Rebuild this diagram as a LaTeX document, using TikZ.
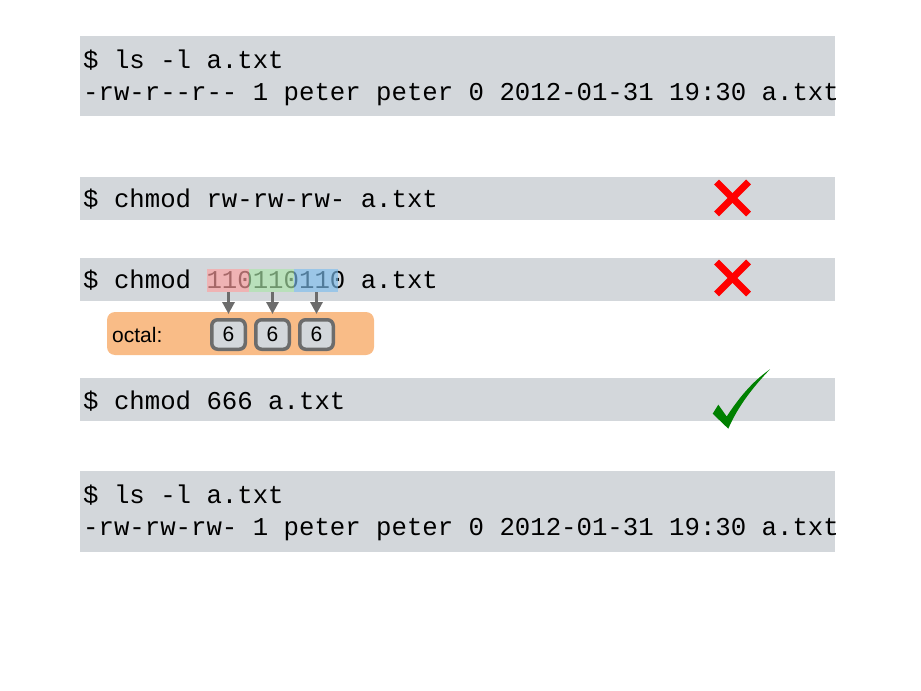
\documentclass[tikz,border=0pt]{standalone}
\usepackage{fontspec}
\setmonofont{Liberation Mono}
\setsansfont{Liberation Sans}
\usetikzlibrary{arrows.meta,calc}
\definecolor{termgray}{RGB}{211,215,219}
\definecolor{octorange}{RGB}{249,188,135}
\definecolor{hlred}{RGB}{255,160,160}
\definecolor{hlgreen}{RGB}{172,230,170}
\definecolor{hlblue}{RGB}{125,190,238}
\definecolor{arrgray}{RGB}{108,108,108}
\definecolor{okgreen}{RGB}{0,128,0}
\tikzset{
  term/.style={anchor=base west, inner sep=0pt, font=\fontsize{25.7bp}{32bp}\selectfont\ttfamily},
  hl/.style={rectangle, inner sep=0pt, minimum height=23bp, fill opacity=0.65},
  digitbox/.style={rectangle, rounded corners=6bp, draw=arrgray, line width=3.5bp, fill=termgray,
    minimum width=33.5bp, minimum height=29.5bp, inner sep=0pt,
    font=\fontsize{21bp}{24bp}\selectfont\sffamily},
  arr/.style={draw=arrgray, line width=3bp, -{Triangle[width=12bp,length=12bp]}, arrgray},
  cross/.style={draw=red, line width=7bp, line cap=butt}
}
\begin{document}
\begin{tikzpicture}[x=1bp,y=-1bp]
\useasboundingbox (0,0) rectangle (921,691);
% terminal boxes
\fill[termgray] (80,36) rectangle (835,116);
\fill[termgray] (80,177) rectangle (835,220);
\fill[termgray] (80,258) rectangle (835,301);
\fill[termgray] (80,378) rectangle (835,421);
\fill[termgray] (80,471) rectangle (835,552);
% texts
\node[term] (t1a) at (83,69) {\$ ls -l a.txt};
\node[term] (t1b) at (83,101) {-rw-r--r-- 1 peter peter 0 2012-01-31 19:30 a.txt};
\node[term] (t2) at (83,207) {\$ chmod rw-rw-rw- a.txt};
\node[term] (t3) at (83,288) {\$ chmod 110110110 a.txt};
\node[term] (t4) at (83,409) {\$ chmod 666 a.txt};
\node[term] (t5a) at (83,503.5) {\$ ls -l a.txt};
\node[term] (t5b) at (83,535.5) {-rw-rw-rw- 1 peter peter 0 2012-01-31 19:30 a.txt};
% highlights
\node[hl, fill=hlred, minimum width=42bp] (h1) at (228,280.5) {};
\node[hl, fill=hlgreen, minimum width=45bp] (h2) at (271.5,280.5) {};
\node[hl, fill=hlblue, minimum width=44bp] (h3) at (316,280.5) {};
% octal box
\fill[octorange, rounded corners=8bp] (107,312) rectangle (374,355);
\node[anchor=base west, inner sep=0pt, font=\fontsize{21bp}{24bp}\selectfont\sffamily] (oct) at (112,342) {octal:};
\node[digitbox] (b1) at (228.5,334.5) {6};
\node[digitbox] (b2) at (272.5,334.5) {6};
\node[digitbox] (b3) at (316.5,334.5) {6};
% arrows
\draw[arr, shorten >=4bp] (h1.south -| b1.north) -- (b1.north);
\draw[arr, shorten >=4bp] (h2.south -| b2.north) -- (b2.north);
\draw[arr, shorten >=4bp] (h3.south -| b3.north) -- (b3.north);
% crosses
\coordinate (c1) at (732.5,198);
\coordinate (c2) at (732.5,278);
\draw[cross] ($(c1)+(-16,-16)$) -- ($(c1)+(16,16)$);
\draw[cross] ($(c1)+(-16,16)$) -- ($(c1)+(16,-16)$);
\draw[cross] ($(c2)+(-16,-16)$) -- ($(c2)+(16,16)$);
\draw[cross] ($(c2)+(-16,16)$) -- ($(c2)+(16,-16)$);
% check mark
\fill[okgreen] (712.7,413.7) -- (718.3,404.7) -- (726.7,416.5)
  .. controls (742,393) and (756,379) .. (770,369.3)
  .. controls (754,386) and (738,406) .. (728.3,428.7) -- cycle;
\end{tikzpicture}
\end{document}
